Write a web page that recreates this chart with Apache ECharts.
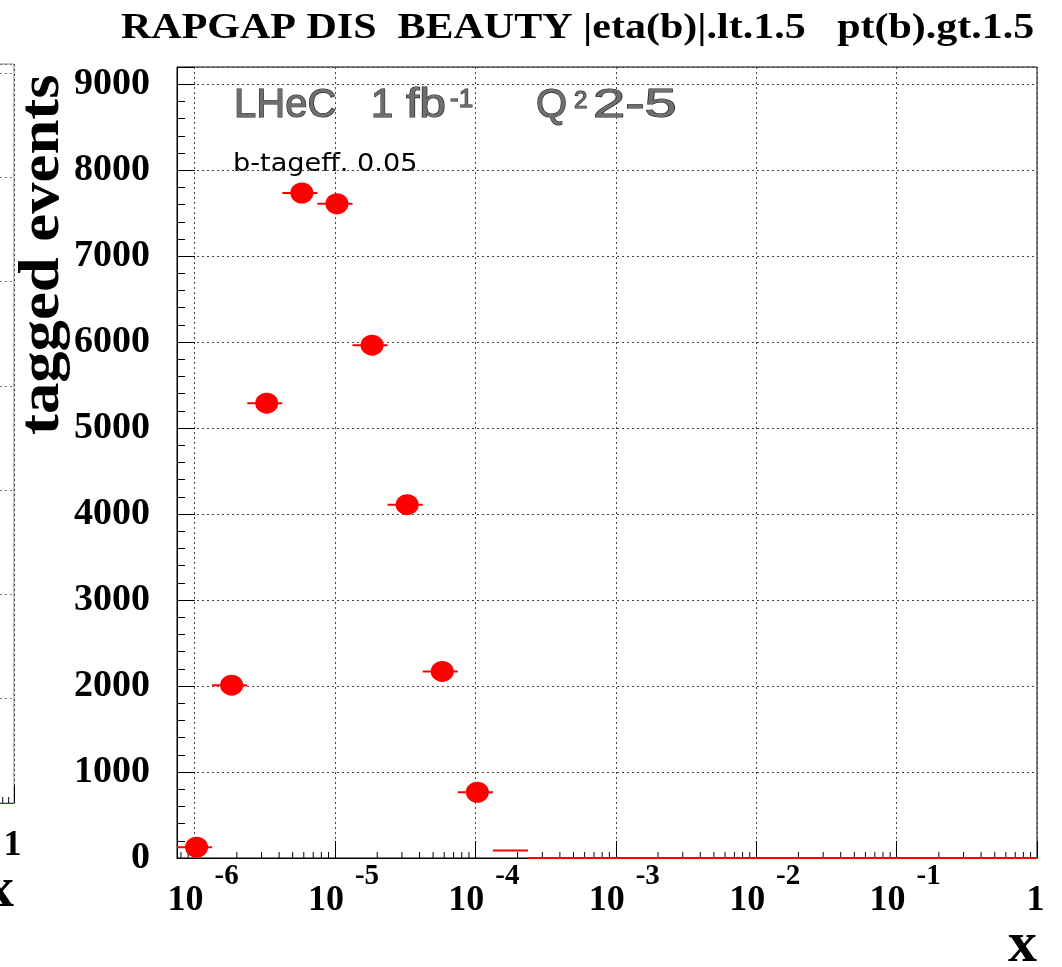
<!DOCTYPE html>
<html>
<head>
<meta charset="utf-8">
<script src="https://cdn.jsdelivr.net/npm/echarts@6/dist/echarts.min.js"></script>
<style>
  html, body { margin: 0; padding: 0; background: #fff; }
  #chart { width: 1062px; height: 967px; }
</style>
</head>
<body>
<div id="chart"></div>
<script>
// ---- data -------------------------------------------------------------
// bin centres of the x histogram, as log10(x); each bin is 0.25 decades wide
const binCentreExp = [-6.0, -5.75, -5.5, -5.25, -5.0, -4.75, -4.5, -4.25, -4.0, -3.75,
                      -3.5, -3.25, -3.0, -2.75, -2.5, -2.25, -2.0, -1.75, -1.5, -1.25,
                      -1.0, -0.75, -0.5, -0.25, 0.0];
// tagged b events per bin
const taggedEvents = [125, 2010, 5290, 7735, 7610, 5965, 4110, 2170, 765, 86,
                      0, 0, 0, 0, 0, 0, 0, 0, 0, 0,
                      0, 0, 0, 0, 0];
// axis ranges / ticks
const xMinExp = -6.125;
const xMaxExp = 0;
const yMax = 9200;
const yMajorStep = 1000;
const yMinorStep = 200;
const minorTickMantissas = [2, 3, 4, 5, 6, 7, 8, 9];
// neighbouring panel (only its right edge is on the page)
const leftPanelYMax = 7085;

// ---- texts ------------------------------------------------------------
const titleText = 'RAPGAP DIS  BEAUTY |eta(b)|.lt.1.5   pt(b).gt.1.5';
const yTitle = 'tagged events';
const xTitle = 'x';
const effText = 'b-tageff. 0.05';

// ---- helpers ----------------------------------------------------------
const SERIF = '"Liberation Serif", "Times New Roman", serif';
const SANS = '"Liberation Sans", Arial, sans-serif';
const halfBin = Math.pow(10, 0.125);

const points = binCentreExp.map((e, i) => [Math.pow(10, e), taggedEvents[i]]);

function minorTicks(lo, hi) {
  const out = [];
  for (let d = Math.floor(lo); d < hi; d++) {
    for (const m of minorTickMantissas) {
      const v = m * Math.pow(10, d);
      const l = Math.log10(v);
      if (l > lo && l < hi) out.push([v, 0]);
    }
  }
  return out;
}

function decadeOf(v) {
  const l = Math.log10(v);
  const e = Math.round(l);
  return Math.abs(l - e) > 1e-6 ? null : e;
}
// "10" part of the decade label (or "1" at x = 1)
function baseLabel(v) {
  const e = decadeOf(v);
  if (e === null) return '';
  return e === 0 ? '{one|1}' : '{b|10}';
}
// raised exponent part of the decade label
function expLabel(v) {
  const e = decadeOf(v);
  if (e === null || e === 0) return '';
  return '{s|' + e + '}';
}

const baseRich = {
  b:   { fontFamily: SERIF, fontWeight: 'bold', fontSize: 36, color: '#000', padding: [0, 18, 0, 0] },
  one: { fontFamily: SERIF, fontWeight: 'bold', fontSize: 36, color: '#000', padding: [0, 3, 0, 0] }
};
const expRich = {
  s: { fontFamily: SERIF, fontWeight: 'bold', fontSize: 29, color: '#000', padding: [0, 0, 0, 64] }
};

const dotted = { color: '#444', width: 1, type: [2, 3] };

function baseXAxis(gridIndex, axisLineColor) {
  return {
    type: 'log', logBase: 10, gridIndex, position: 'bottom',
    min: Math.pow(10, xMinExp), max: Math.pow(10, xMaxExp),
    axisLine: { show: true, onZero: false, lineStyle: { color: axisLineColor, width: 1 } },
    axisTick: { show: true, inside: true, length: 17, lineStyle: { color: '#000', width: 1 } },
    minorTick: { show: false },
    splitLine: { show: true, lineStyle: dotted },
    axisLabel: { show: true, margin: 25, formatter: baseLabel, rich: baseRich },
    name: xTitle, nameLocation: 'end', nameGap: 0, nameMoveOverlap: false,
    nameTextStyle: { fontFamily: SERIF, fontWeight: 'bold', fontSize: 58, color: '#000',
                     align: 'right', verticalAlign: 'top', padding: [59, 0, 0, 0] }
  };
}
function expXAxis(gridIndex) {
  return {
    type: 'log', logBase: 10, gridIndex, position: 'bottom',
    min: Math.pow(10, xMinExp), max: Math.pow(10, xMaxExp),
    axisLine: { show: false, onZero: false }, axisTick: { show: false },
    minorTick: { show: false }, splitLine: { show: false },
    axisLabel: { show: true, margin: 4, formatter: expLabel, rich: expRich }
  };
}

function tickSeries(xi, yi) {
  return {
    type: 'custom', xAxisIndex: xi, yAxisIndex: yi, silent: true, z: 3,
    data: minorTicks(xMinExp, xMaxExp),
    renderItem(params, api) {
      const p = api.coord([api.value(0), 0]);
      return { type: 'line', shape: { x1: p[0], y1: p[1], x2: p[0], y2: p[1] - 6 },
               style: { stroke: '#000', lineWidth: 1 } };
    }
  };
}

const labelStyle = { fill: '#6e6e6e', stroke: '#222', lineWidth: 1.1,
                     textAlign: 'left', textVerticalAlign: 'middle' };

// ---- chart ------------------------------------------------------------
const chart = echarts.init(document.getElementById('chart'), null, { renderer: 'canvas' });

chart.setOption({
  animation: false,
  backgroundColor: '#fff',
  grid: [
    { left: 177, top: 67, right: 25, bottom: 109, show: true, borderColor: '#000', borderWidth: 1,
      containLabel: false, outerBoundsMode: 'none' },
    { left: -700, top: 64, width: 714, height: 739, show: true, borderColor: '#888', borderWidth: 1,
      containLabel: false, outerBoundsMode: 'none' }
  ],
  xAxis: [
    baseXAxis(0, '#000'),
    expXAxis(0),
    baseXAxis(1, '#3434c8'),
    expXAxis(1)
  ],
  yAxis: [
    {
      type: 'value', gridIndex: 0, position: 'left', min: 0, max: yMax, interval: yMajorStep,
      axisLine: { show: true, lineStyle: { color: '#000', width: 1 } },
      axisTick: { show: true, inside: true, length: 18, lineStyle: { color: '#000', width: 1 } },
      splitLine: { show: true, lineStyle: dotted },
      axisLabel: {
        margin: 27, color: '#000', fontFamily: SERIF, fontWeight: 'bold', fontSize: 38,
        formatter: v => (v % yMajorStep === 0 ? String(v) : '')
      }
    },
    {
      type: 'value', gridIndex: 0, position: 'left', min: 0, max: yMax, interval: yMinorStep,
      axisLine: { show: false },
      axisTick: { show: true, inside: true, length: 8, lineStyle: { color: '#000', width: 1 } },
      splitLine: { show: false },
      axisLabel: { show: false }
    },
    {
      type: 'value', gridIndex: 1, position: 'left', min: 0, max: leftPanelYMax, interval: yMajorStep,
      axisLine: { show: false }, axisTick: { show: false }, axisLabel: { show: false },
      splitLine: { show: true, lineStyle: { color: '#777', width: 1, type: [2, 3] } }
    }
  ],
  series: [
    tickSeries(0, 0),
    tickSeries(2, 2),
    {
      // horizontal bin-width bars
      type: 'custom', xAxisIndex: 0, yAxisIndex: 0, z: 4,
      data: points,
      renderItem(params, api) {
        const xc = api.value(0), y = api.value(1);
        const a = api.coord([xc / halfBin, y]);
        const b = api.coord([xc * halfBin, y]);
        const cs = params.coordSys;
        const x1 = Math.max(a[0], cs.x), x2 = Math.min(b[0], cs.x + cs.width);
        return { type: 'line', shape: { x1, y1: a[1], x2, y2: a[1] },
                 style: { stroke: '#ff0000', lineWidth: 2 } };
      }
    },
    {
      type: 'scatter', xAxisIndex: 0, yAxisIndex: 0, z: 5,
      data: points,
      symbol: 'circle',
      symbolSize: val => (val[1] >= 100 ? [23, 21] : 0),
      symbolOffset: [2, 0],
      itemStyle: { color: '#ff0000', opacity: 1 }
    }
  ],
  graphic: [
    { type: 'text', x: 121, y: 29, scaleX: 1.2, silent: true,
      style: { text: titleText, font: 'bold 35px ' + SERIF, fill: '#000',
               textAlign: 'left', textVerticalAlign: 'middle' } },
    { type: 'text', x: 44, y: 435, rotation: Math.PI / 2, scaleX: 1.12, silent: true,
      style: { text: yTitle, font: 'bold 56px ' + SERIF, fill: '#000',
               textAlign: 'left', textVerticalAlign: 'middle' } },
    { type: 'text', x: 234, y: 106, silent: true,
      style: Object.assign({ text: 'LHeC', font: '40px ' + SANS }, labelStyle) },
    { type: 'text', x: 371, y: 106, silent: true,
      style: Object.assign({ text: '1', font: '40px ' + SANS }, labelStyle) },
    { type: 'text', x: 406, y: 106, scaleX: 1.2, silent: true,
      style: Object.assign({ text: 'fb', font: '40px ' + SANS }, labelStyle) },
    { type: 'text', x: 450, y: 100, silent: true,
      style: Object.assign({ text: '-1', font: '26px ' + SANS }, labelStyle) },
    { type: 'text', x: 536, y: 106, silent: true,
      style: Object.assign({ text: 'Q', font: '40px ' + SANS }, labelStyle) },
    { type: 'text', x: 574, y: 101, silent: true,
      style: Object.assign({ text: '2', font: '24px ' + SANS }, labelStyle) },
    { type: 'text', x: 593, y: 106, scaleX: 1.45, silent: true,
      style: Object.assign({ text: '2-5', font: '40px ' + SANS }, labelStyle) },
    { type: 'text', x: 233, y: 165, scaleX: 1.13, silent: true,
      style: { text: effText, font: '24px "DejaVu Sans", sans-serif', fill: '#000',
               textAlign: 'left', textVerticalAlign: 'middle' } }
  ]
});
</script>
</body>
</html>
